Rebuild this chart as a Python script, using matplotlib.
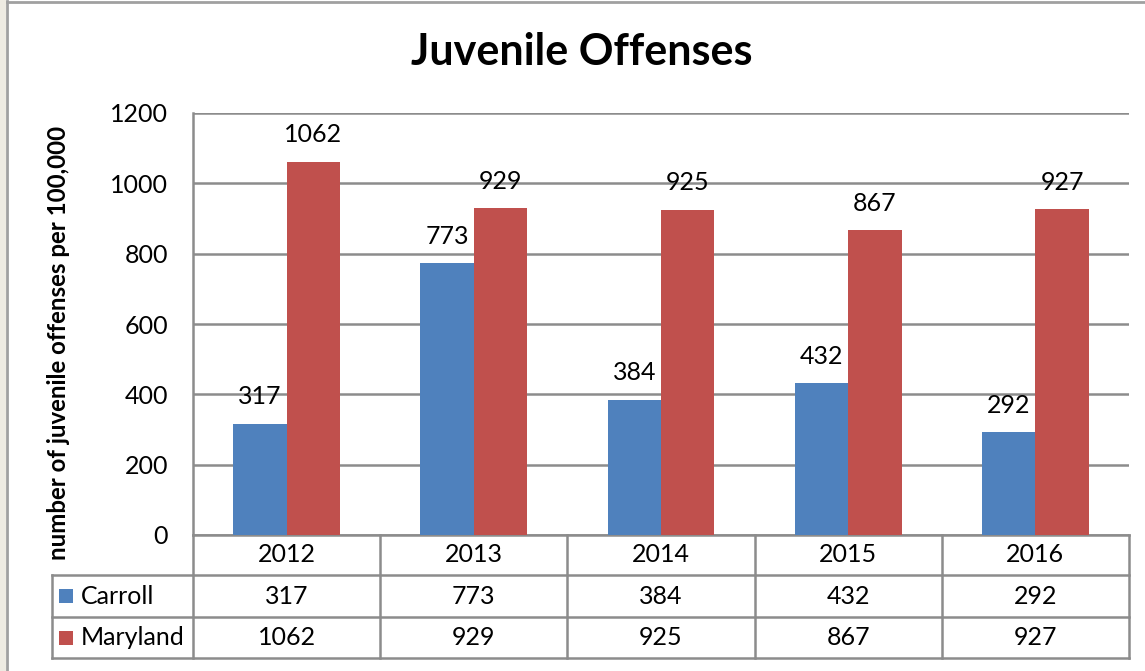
import matplotlib.pyplot as plt
import numpy as np
from matplotlib.patches import Rectangle
from matplotlib.lines import Line2D

plt.rcParams['font.family'] = ['Lato', 'DejaVu Sans']

years = ["2012", "2013", "2014", "2015", "2016"]
series_names = ["Carroll", "Maryland"]
carroll = [317, 773, 384, 432, 292]
maryland = [1062, 929, 925, 867, 927]
y_ticks = [0, 200, 400, 600, 800, 1000, 1200]

blue = "#4F81BD"
red = "#C0504D"
grid_col = "#8C8C8C"
fs = 18

fig = plt.figure(figsize=(11.45, 6.71), dpi=100)
W, H = 1145, 671

# outer frame like the excel chart area
fig.patches.append(Rectangle((0, 0), 6 / W, 1, transform=fig.transFigure,
                             facecolor="#EEEBE2", edgecolor="none", zorder=0))
fig.add_artist(Line2D([7 / W, 7 / W], [0, 1 - 1 / H], transform=fig.transFigure,
                      color="#A0A0A0", lw=2))
fig.add_artist(Line2D([7 / W, 1], [1 - 2 / H, 1 - 2 / H], transform=fig.transFigure,
                      color="#A0A0A0", lw=2))

ax = fig.add_axes([193 / W, 136 / H, 936 / W, 422 / H])

x = np.arange(len(years))
bw = 0.285
ax.bar(x - bw / 2, carroll, bw, color=blue, zorder=3)
ax.bar(x + bw / 2, maryland, bw, color=red, zorder=3)

for xi, c, m in zip(x, carroll, maryland):
    ax.annotate(str(c), (xi - bw / 2, c), xytext=(0, 27), textcoords="offset pixels",
                ha="center", va="center", fontsize=fs)
    ax.annotate(str(m), (xi + bw / 2, m), xytext=(0, 27), textcoords="offset pixels",
                ha="center", va="center", fontsize=fs)

ax.set_xlim(-0.5, len(years) - 0.5)
ax.set_ylim(0, 1200)
ax.set_yticks(y_ticks)
ax.set_xticks([])
ax.tick_params(axis="y", length=0, pad=18, labelsize=fs)
ax.yaxis.grid(True, color=grid_col, lw=1.8, zorder=0)
for s in ["right", "bottom"]:
    ax.spines[s].set_visible(False)
ax.spines["left"].set_color(grid_col)
ax.spines["left"].set_linewidth(1.8)
ax.spines["top"].set_visible(False)

ax.set_ylabel("number of juvenile offenses per 100,000", fontsize=17.3, fontweight="bold",
              labelpad=0)
ax.yaxis.set_label_coords((70 - 193) / 936, 0.455)

fig.text(582 / W, 1 - 52 / H, "Juvenile Offenses", ha="center", va="center",
         fontsize=31, fontweight="bold")

# data table under the axes
ax_h = 422
row_edges = [0, -40 / ax_h, -82 / ax_h, -123 / ax_h]
left_col = (52 - 193) / 936
tcol = "#8C8C8C"
lw_t = 1.8
tr = ax.transAxes
# horizontal lines
ax.add_line(Line2D([0, 1], [row_edges[0]] * 2, transform=tr, color=tcol, lw=lw_t, clip_on=False))
for r in row_edges[1:]:
    ax.add_line(Line2D([left_col, 1], [r, r], transform=tr, color=tcol, lw=lw_t, clip_on=False))
# vertical lines
for i in range(len(years) + 1):
    xv = i / len(years)
    ax.add_line(Line2D([xv, xv], [row_edges[0], row_edges[3]], transform=tr, color=tcol,
                       lw=lw_t, clip_on=False))
ax.add_line(Line2D([left_col, left_col], [row_edges[1], row_edges[3]], transform=tr,
                   color=tcol, lw=lw_t, clip_on=False))

def mid(a, b):
    return (a + b) / 2

for i, yr in enumerate(years):
    xc = (i + 0.5) / len(years)
    ax.text(xc, mid(row_edges[0], row_edges[1]), yr, transform=tr, ha="center",
            va="center", fontsize=fs)
    ax.text(xc, mid(row_edges[1], row_edges[2]), str(carroll[i]), transform=tr,
            ha="center", va="center", fontsize=fs)
    ax.text(xc, mid(row_edges[2], row_edges[3]), str(maryland[i]), transform=tr,
            ha="center", va="center", fontsize=fs)

for k, (name, col) in enumerate(zip(series_names, [blue, red])):
    yc = mid(row_edges[k + 1], row_edges[k + 2])
    sq = 14 / 936
    sqh = 14 / ax_h
    ax.add_patch(Rectangle(((59 - 193) / 936, yc - sqh / 2), sq, sqh, transform=tr,
                           facecolor=col, edgecolor="none", clip_on=False))
    ax.text((81 - 193) / 936, yc, name, transform=tr, ha="left", va="center",
            fontsize=fs)

fig.savefig("out.png", dpi=100)
